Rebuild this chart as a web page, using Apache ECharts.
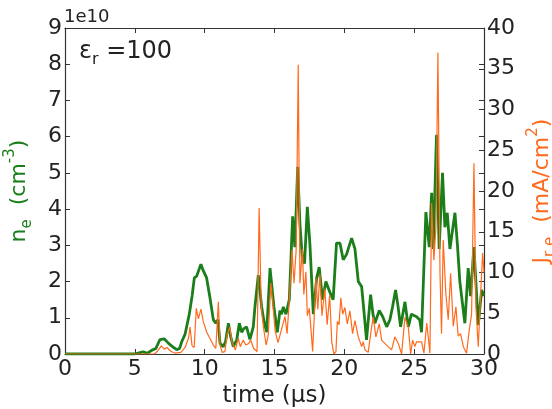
<!DOCTYPE html>
<html>
<head>
<meta charset="utf-8">
<title>n_e and J_r,e vs time</title>
<script src="https://cdn.jsdelivr.net/npm/echarts@6.0.0/dist/echarts.min.js"></script>
<style>
  html, body { margin: 0; padding: 0; background: #fff; }
  #chart { width: 552px; height: 409px; }
</style>
</head>
<body>
<div id="chart"></div>
<script>
//- 数据：时间 (μs)，电子密度 (1e10 cm^-3)，电流密度 (mA/cm^2)
var neTime = [
  0, 5.0, 5.3, 5.6, 5.9, 6.2, 6.5, 6.8, 7.1, 7.4,
  7.7, 8.0, 8.2, 8.35, 8.6, 8.9, 9.1, 9.26, 9.43, 9.55,
  9.73, 9.9, 10.14, 10.38, 10.62, 10.8, 10.95, 11.1, 11.33, 11.5,
  11.7, 11.85, 12.05, 12.3, 12.48, 12.65, 12.8, 13.0, 13.24, 13.48,
  13.6, 13.84, 14.08, 14.25, 14.44, 14.68, 14.96, 15.2, 15.39, 15.5,
  15.63, 15.82, 16.06, 16.3, 16.46, 16.66, 16.82, 17.0, 17.15, 17.35,
  17.54, 17.78, 18.02, 18.2, 18.44, 18.68, 18.97, 19.2, 19.44, 19.69,
  19.92, 20.16, 20.52, 20.76, 21.0, 21.24, 21.4, 21.59, 21.88, 22.05,
  22.19, 22.5, 22.75, 23.03, 23.26, 23.45, 23.67, 23.85, 24.03, 24.34,
  24.58, 24.8, 25.18, 25.4, 25.53, 25.84, 26.08, 26.25, 26.37, 26.6,
  26.79, 27.03, 27.2, 27.37, 27.56, 27.92, 28.1, 28.27, 28.63, 28.87,
  29.04, 29.28, 29.59, 29.83, 30
];
var neValues = [
  0, 0, 0.03, 0.06, 0.02, 0.1, 0.15, 0.4, 0.42, 0.3,
  0.2, 0.12, 0.15, 0.33, 0.55, 1.1, 1.6, 2.1, 2.15, 2.2,
  2.48, 2.3, 2.1, 1.55, 0.95, 0.85, 0.95, 0.3, 0.2, 0.35,
  0.85, 0.5, 0.2, 0.4, 0.85, 0.6, 0.7, 0.75, 0.4, 0.75,
  1.3, 2.18, 1.3, 0.9, 0.6, 2.37, 1.3, 0.6, 1.2, 1.1,
  1.3, 1.1, 1.5, 3.8, 2.95, 5.17, 3.6, 2.6, 2.5, 4.06,
  3.0, 1.1, 2.1, 2.4, 1.5, 2.0, 1.7, 1.5, 3.06, 3.06,
  2.6, 2.75, 3.2, 2.9, 2.0, 1.86, 1.2, 0.39, 1.64, 1.1,
  0.85, 1.2, 1.03, 0.75, 0.94, 1.3, 1.77, 1.3, 0.75, 1.44,
  0.75, 1.1, 1.03, 0.94, 0.6, 3.92, 2.95, 4.45, 2.9, 6.05,
  2.9, 5.0, 3.5, 3.9, 2.9, 3.9, 3.0, 2.0, 0.85, 2.37,
  1.6, 2.95, 0.8, 1.77, 1.6
];
var jTime = [
  0, 6.4, 6.6, 6.9, 7.1, 7.3, 7.6, 7.9, 8.3, 8.6,
  8.85, 8.95, 9.1, 9.25, 9.4, 9.55, 9.73, 9.9, 10.14, 10.38,
  10.62, 10.8, 10.98, 11.1, 11.25, 11.45, 11.6, 11.8, 11.95, 12.2,
  12.4, 12.55, 12.75, 12.95, 13.15, 13.3, 13.5, 13.75, 13.9, 14.05,
  14.2, 14.4, 14.55, 14.74, 14.9, 15.05, 15.25, 15.5, 15.75, 15.9,
  16.05, 16.25, 16.4, 16.55, 16.7, 16.82, 17.0, 17.1, 17.25, 17.35,
  17.49, 17.6, 17.73, 17.97, 18.1, 18.25, 18.4, 18.6, 18.77, 18.95,
  19.1, 19.25, 19.4, 19.5, 19.62, 19.75, 19.88, 20.04, 20.21, 20.4,
  20.59, 20.76, 21.0, 21.24, 21.35, 21.48, 21.71, 21.95, 22.07, 22.26,
  22.5, 22.67, 22.9, 23.14, 23.38, 23.62, 23.86, 24.1, 24.34, 24.58,
  24.75, 24.89, 25.05, 25.17, 25.53, 25.7, 25.9, 26.13, 26.25, 26.41,
  26.56, 26.7, 26.85, 26.96, 27.08, 27.27, 27.44, 27.61, 27.8, 27.99,
  28.15, 28.32, 28.52, 28.75, 28.94, 29.11, 29.28, 29.42, 29.59, 29.76,
  29.9, 30
];
var jValues = [
  0, 0, 0.3, 1.0, 0.6, 0.8, 0.3, 0.1, 0.2, 0.8,
  2.0, 3.3, 1.0, 0.8, 5.6, 4.3, 5.5, 4.0, 2.7, 1.9,
  1.1, 0.7, 6.4, 1.1, 0.2, 0.3, 2.3, 3.3, 1.5, 0.5,
  1.9, 0.9, 1.7, 1.1, 1.3, 1.7, 0.7, 0.3, 17.9, 5.8,
  3.4, 1.1, 2.3, 8.7, 5.8, 2.8, 1.4, 3.0, 4.6, 2.5,
  6.3, 12.8, 8.7, 12.8, 35.5, 8.7, 12.9, 7.3, 10.1, 4.7,
  5.6, 3.3, 0.3, 9.3, 5.5, 9.8, 4.7, 8.0, 3.6, 7.2,
  1.5, 0, 0.3, 4.0, 3.6, 6.9, 4.9, 5.7, 3.7, 5.3,
  2.5, 4.1, 2.1, 0.9, 1.5, 0.5, 0.2, 3.3, 4.5, 2.1,
  3.7, 1.7, 1.3, 0.9, 0.5, 2.1, 1.3, 0, 4.5, 3.3,
  0, 1.7, 0.9, 1.5, 1.5, 0.1, 3.8, 0.1, 18.5, 11.5,
  15.6, 37, 9.9, 2.5, 14, 7.4, 4.2, 9.9, 3.4, 5.8,
  2.2, 2.5, 0.9, 0.1, 2.9, 4.9, 23.4, 5.8, 0.9, 7.4,
  12.4, 10
];
var xTicks = { min: 0, max: 30, step: 5 };
var neTicks = { min: 0, max: 9, step: 1 };
var jTicks = { min: 0, max: 40, step: 5 };

(function () {
  var FONT = 'DejaVu Sans';
  var GREEN = '#1b7e1b';
  var ORANGE = '#ff6a1c';
  var AXIS = '#333';

  var zip = function (xs, ys) {
    return xs.map(function (x, i) { return [x, ys[i]]; });
  };

  //- 公共的坐标轴样式
  var baseAxis = function (t) {
    return {
      type: 'value',
      min: t.min,
      max: t.max,
      interval: t.step,
      splitLine: { show: false },
      axisLine: { show: true, onZero: false, lineStyle: { color: AXIS, width: 1.2 } },
      axisTick: { show: true, inside: true, length: 5, lineStyle: { color: AXIS, width: 1 } },
      axisLabel: { fontFamily: FONT, fontSize: 22, color: '#222' }
    };
  };

  var xBottom = baseAxis(xTicks);
  xBottom.position = 'bottom';
  xBottom.axisLabel.margin = 4;
  xBottom.name = 'time (μs)';
  xBottom.nameLocation = 'middle';
  xBottom.nameGap = 29;
  xBottom.nameTextStyle = { fontFamily: FONT, fontSize: 23, color: '#222' };

  var xTop = baseAxis(xTicks);
  xTop.position = 'top';
  xTop.axisLabel = { show: false };

  var yLeft = baseAxis(neTicks);
  yLeft.position = 'left';
  yLeft.axisLabel.margin = 3;
  yLeft.name = '{m|n}{s|e}{m|  (cm}{p|-3}{m|)}';
  yLeft.nameLocation = 'middle';
  yLeft.nameRotate = 90;
  yLeft.nameGap = 30;
  yLeft.nameTextStyle = {
    fontFamily: FONT,
    rich: {
      m: { fontFamily: FONT, fontSize: 22, color: GREEN, lineHeight: 32 },
      s: { fontFamily: FONT, fontSize: 15, color: GREEN, lineHeight: 15, verticalAlign: 'bottom' },
      p: { fontFamily: FONT, fontSize: 15, color: GREEN, lineHeight: 15, verticalAlign: 'top' }
    }
  };

  var yRight = baseAxis(jTicks);
  yRight.position = 'right';
  yRight.axisLabel.margin = 3;
  yRight.name = '{m|J}{s|r,e}{m|  (mA/cm}{p|2}{m|)}';
  yRight.nameLocation = 'middle';
  yRight.nameRotate = 90;
  yRight.nameGap = 37;
  yRight.nameTextStyle = {
    fontFamily: FONT,
    rich: {
      m: { fontFamily: FONT, fontSize: 22, color: ORANGE, lineHeight: 32 },
      s: { fontFamily: FONT, fontSize: 15, color: ORANGE, lineHeight: 15, verticalAlign: 'bottom' },
      p: { fontFamily: FONT, fontSize: 15, color: ORANGE, lineHeight: 15, verticalAlign: 'top' }
    }
  };

  //- 右侧镜像的左轴刻度
  var yMirror = baseAxis(neTicks);
  yMirror.position = 'right';
  yMirror.axisLabel = { show: false };
  yMirror.axisLine = { show: false, onZero: false };

  var myChart = echarts.init(document.getElementById('chart'), null, { renderer: 'canvas' });
  myChart.setOption({
    animation: false,
    backgroundColor: '#fff',
    grid: { left: 65, right: 68, top: 28, bottom: 55, containLabel: false, outerBoundsMode: 'none' },
    xAxis: [xBottom, xTop],
    yAxis: [yLeft, yRight, yMirror],
    graphic: [
      {
        type: 'text', left: 64, top: 8,
        style: { text: '1e10', fontFamily: FONT, fontSize: 18, fill: '#222' }
      },
      {
        type: 'text', left: 79, top: 40,
        style: {
          text: '{m|ε}{s|r}{m| =100}',
          rich: {
            m: { fontFamily: FONT, fontSize: 24, fill: '#222', lineHeight: 32 },
            s: { fontFamily: FONT, fontSize: 16, fill: '#222', lineHeight: 16, verticalAlign: 'bottom' }
          }
        }
      }
    ],
    series: [
      {
        name: 'n_e',
        type: 'line',
        xAxisIndex: 0,
        yAxisIndex: 0,
        data: zip(neTime, neValues),
        showSymbol: false,
        lineStyle: { color: GREEN, width: 2.8 },
        itemStyle: { color: GREEN },
        z: 2
      },
      {
        name: 'J_r,e',
        type: 'line',
        xAxisIndex: 0,
        yAxisIndex: 1,
        data: zip(jTime, jValues),
        showSymbol: false,
        lineStyle: { color: ORANGE, width: 1.2 },
        itemStyle: { color: ORANGE },
        z: 3
      }
    ]
  });
})();
</script>
</body>
</html>
